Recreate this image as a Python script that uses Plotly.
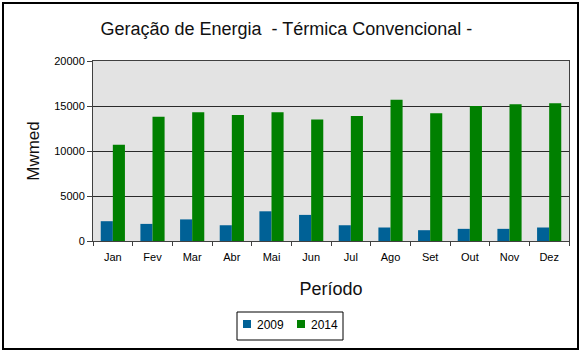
import plotly.graph_objects as go

meses = ["Jan", "Fev", "Mar", "Abr", "Mai", "Jun", "Jul", "Ago", "Set", "Out", "Nov", "Dez"]
v2009 = [2200, 1900, 2400, 1750, 3300, 2900, 1750, 1500, 1200, 1350, 1350, 1500]
v2014 = [10700, 13800, 14300, 14000, 14300, 13500, 13900, 15700, 14200, 15000, 15200, 15300]
yticks = [0, 5000, 10000, 15000, 20000]
series = [("2009", v2009, "#006196"), ("2014", v2014, "#008000")]

font = "Liberation Sans, Arial, sans-serif"

# plot area in pixels: x 93..569, y 61..241
PL, PW, PB, PH = 93, 476, 241, 180
def px(x):
    return (x - PL) / PW
def py(y):
    return (PB - y) / PH

fig = go.Figure()
for name, vals, col in series:
    fig.add_trace(go.Bar(name=name, x=meses, y=vals, marker=dict(color=col, line=dict(width=0))))

shapes = [dict(type="rect", xref="paper", yref="paper",
               x0=px(3), x1=px(578), y0=py(349), y1=py(3),
               line=dict(color="black", width=2), fillcolor="rgba(0,0,0,0)", layer="below"),
          dict(type="rect", xref="paper", yref="paper",
               x0=px(237), x1=px(343), y0=py(340), y1=py(312),
               line=dict(color="black", width=1), fillcolor="white")]
annotations = []
leg_x = [243, 297]
for (name, vals, col), lx in zip(series, leg_x):
    shapes.append(dict(type="rect", xref="paper", yref="paper",
                       x0=px(lx), x1=px(lx + 8), y0=py(328), y1=py(320),
                       line=dict(width=0), fillcolor=col))
    annotations.append(dict(text=name, xref="paper", yref="paper", x=px(lx + 12), y=py(324.5),
                            xanchor="left", yanchor="middle", showarrow=False,
                            font=dict(size=12, family=font, color="black")))

fig.update_layout(
    width=582, height=353,
    margin=dict(l=93, r=13, t=61, b=112),
    paper_bgcolor="white",
    plot_bgcolor="#e3e3e3",
    barmode="group",
    bargap=0.39,
    bargroupgap=0,
    font=dict(family=font, color="black", size=11),
    title=dict(text="Geração de Energia  - Térmica Convencional -", x=0.492, xanchor="center",
               y=0.918, yanchor="middle", font=dict(size=18, family=font, color="#111111")),
    showlegend=False,
    xaxis=dict(
        showline=True, linecolor="#404040", linewidth=1, mirror=True,
        ticks="outside", tickson="boundaries", ticklen=4, tickcolor="#404040",
        tickfont=dict(size=11), showgrid=False, ticklabelstandoff=6,
        title=dict(text="Período", font=dict(size=18, color="#111111"), standoff=20),
    ),
    yaxis=dict(
        range=[0, 20000], tickvals=yticks, ticktext=[str(t) for t in yticks],
        showline=True, linecolor="#404040", linewidth=1, mirror=True,
        ticks="outside", ticklen=5, tickcolor="#404040",
        showgrid=True, gridcolor="#2a2a2a", gridwidth=1.3, zeroline=False,
        tickfont=dict(size=11),
        title=dict(text="Mwmed", font=dict(size=17, color="#111111"), standoff=10),
    ),
    shapes=shapes,
    annotations=annotations,
)

fig.write_html("out.html")
